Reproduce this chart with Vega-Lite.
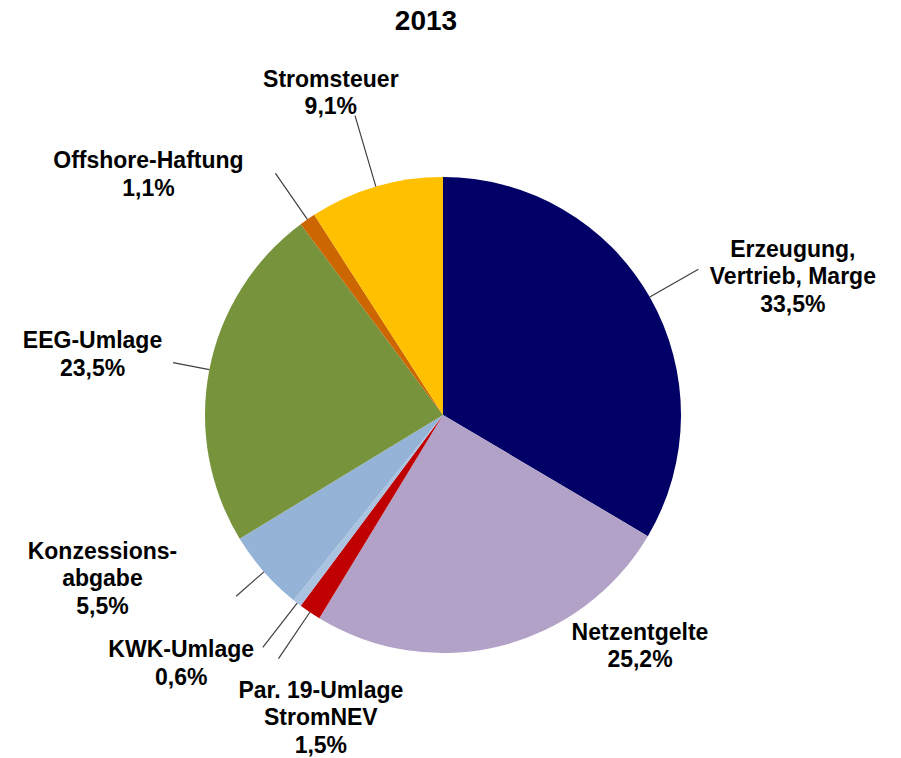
{
  "$schema": "https://vega.github.io/schema/vega-lite/v6.json",
  "autosize": {"type": "none"},
  "width": 886,
  "height": 748,
  "padding": {"left": 0, "top": 41, "right": 15, "bottom": 0},
  "background": "white",
  "title": {"text": "2013", "fontSize": 28, "font": "Liberation Sans", "fontWeight": "bold", "color": "#000000", "anchor": "middle", "dx": -17, "offset": 5},
  "config": {"view": {"stroke": null}},
  "data": {"values": [
    {"idx": 1, "name": "Erzeugung,\nVertrieb, Marge", "value": 33.5},
    {"idx": 2, "name": "Netzentgelte", "value": 25.2},
    {"idx": 3, "name": "Par. 19-Umlage\nStromNEV", "value": 1.5},
    {"idx": 4, "name": "KWK-Umlage", "value": 0.6},
    {"idx": 5, "name": "Konzessions-\nabgabe", "value": 5.5},
    {"idx": 6, "name": "EEG-Umlage", "value": 23.5},
    {"idx": 7, "name": "Offshore-Haftung", "value": 1.1},
    {"idx": 8, "name": "Stromsteuer", "value": 9.1}
  ]},
  "transform": [
    {"window": [{"op": "sum", "field": "value", "as": "cum"}], "sort": [{"field": "idx"}], "frame": [null, 0]},
    {"calculate": "datum.cum - datum.value / 2", "as": "mid"},
    {"calculate": "datum.name + '\\n' + replace(format(datum.value, '.1f'), '.', ',') + '%'", "as": "lab"}
  ],
  "layer": [
    {
      "mark": {"type": "arc", "outerRadius": 238},
      "encoding": {
        "theta": {"field": "value", "type": "quantitative", "stack": true, "scale": {"domain": [0, 100]}},
        "color": {"field": "idx", "type": "nominal", "legend": null,
          "scale": {"domain": [1, 2, 3, 4, 5, 6, 7, 8], "range": ["#000066", "#B3A2C7", "#C00000", "#A9C3E1", "#95B3D7", "#77933C", "#CC6600", "#FFC000"]}},
        "order": {"field": "idx", "type": "quantitative"}
      }
    },
    {
      "transform": [{"filter": {"field": "idx", "oneOf": [1, 3, 4, 7]}}],
      "mark": {"type": "arc", "innerRadius": 238, "outerRadius": 294, "stroke": "#404040", "strokeWidth": 1.2, "fillOpacity": 0},
      "encoding": {
        "theta": {"field": "mid", "type": "quantitative", "stack": null, "scale": {"domain": [0, 100]}},
        "theta2": {"field": "mid"}
      }
    },
    {
      "transform": [{"filter": {"field": "idx", "oneOf": [8]}}],
      "mark": {"type": "arc", "innerRadius": 238, "outerRadius": 312, "stroke": "#404040", "strokeWidth": 1.2, "fillOpacity": 0},
      "encoding": {
        "theta": {"field": "mid", "type": "quantitative", "stack": null, "scale": {"domain": [0, 100]}},
        "theta2": {"field": "mid"}
      }
    },
    {
      "transform": [{"filter": {"field": "idx", "oneOf": [5, 6]}}],
      "mark": {"type": "arc", "innerRadius": 238, "outerRadius": 275, "stroke": "#404040", "strokeWidth": 1.2, "fillOpacity": 0},
      "encoding": {
        "theta": {"field": "mid", "type": "quantitative", "stack": null, "scale": {"domain": [0, 100]}},
        "theta2": {"field": "mid"}
      }
    },
    {
      "transform": [{"filter": "datum.idx == 1"}],
      "mark": {"type": "text", "radius": 374, "dx": 25, "dy": 20, "fontSize": 23, "fontWeight": "bold", "font": "Liberation Sans", "lineBreak": "\n", "lineHeight": 27.5, "align": "center", "baseline": "middle", "color": "#000000"},
      "encoding": {"theta": {"field": "mid", "type": "quantitative", "stack": null, "scale": {"domain": [0, 100]}}, "text": {"field": "lab"}}
    },
    {
      "transform": [{"filter": "datum.idx == 2"}],
      "mark": {"type": "text", "radius": 272, "dx": 131, "dy": -46, "fontSize": 23, "fontWeight": "bold", "font": "Liberation Sans", "lineBreak": "\n", "lineHeight": 27.5, "align": "center", "baseline": "middle", "color": "#000000"},
      "encoding": {"theta": {"field": "mid", "type": "quantitative", "stack": null, "scale": {"domain": [0, 100]}}, "text": {"field": "lab"}}
    },
    {
      "transform": [{"filter": "datum.idx == 3"}],
      "mark": {"type": "text", "radius": 322, "dx": 58, "dy": 9, "fontSize": 23, "fontWeight": "bold", "font": "Liberation Sans", "lineBreak": "\n", "lineHeight": 27.5, "align": "center", "baseline": "middle", "color": "#000000"},
      "encoding": {"theta": {"field": "mid", "type": "quantitative", "stack": null, "scale": {"domain": [0, 100]}}, "text": {"field": "lab"}}
    },
    {
      "transform": [{"filter": "datum.idx == 4"}],
      "mark": {"type": "text", "radius": 357, "dx": -43, "dy": -47, "fontSize": 23, "fontWeight": "bold", "font": "Liberation Sans", "lineBreak": "\n", "lineHeight": 27.5, "align": "center", "baseline": "middle", "color": "#000000"},
      "encoding": {"theta": {"field": "mid", "type": "quantitative", "stack": null, "scale": {"domain": [0, 100]}}, "text": {"field": "lab"}}
    },
    {
      "transform": [{"filter": "datum.idx == 5"}],
      "mark": {"type": "text", "radius": 365, "dx": -66, "dy": -104, "fontSize": 23, "fontWeight": "bold", "font": "Liberation Sans", "lineBreak": "\n", "lineHeight": 27.5, "align": "center", "baseline": "middle", "color": "#000000"},
      "encoding": {"theta": {"field": "mid", "type": "quantitative", "stack": null, "scale": {"domain": [0, 100]}}, "text": {"field": "lab"}}
    },
    {
      "transform": [{"filter": "datum.idx == 6"}],
      "mark": {"type": "text", "radius": 356, "dx": -1, "dy": -6, "fontSize": 23, "fontWeight": "bold", "font": "Liberation Sans", "lineBreak": "\n", "lineHeight": 27.5, "align": "center", "baseline": "middle", "color": "#000000"},
      "encoding": {"theta": {"field": "mid", "type": "quantitative", "stack": null, "scale": {"domain": [0, 100]}}, "text": {"field": "lab"}}
    },
    {
      "transform": [{"filter": "datum.idx == 7"}],
      "mark": {"type": "text", "radius": 366, "dx": -86, "dy": 47, "fontSize": 23, "fontWeight": "bold", "font": "Liberation Sans", "lineBreak": "\n", "lineHeight": 27.5, "align": "center", "baseline": "middle", "color": "#000000"},
      "encoding": {"theta": {"field": "mid", "type": "quantitative", "stack": null, "scale": {"domain": [0, 100]}}, "text": {"field": "lab"}}
    },
    {
      "transform": [{"filter": "datum.idx == 8"}],
      "mark": {"type": "text", "radius": 341, "dx": -16, "dy": -8, "fontSize": 23, "fontWeight": "bold", "font": "Liberation Sans", "lineBreak": "\n", "lineHeight": 27.5, "align": "center", "baseline": "middle", "color": "#000000"},
      "encoding": {"theta": {"field": "mid", "type": "quantitative", "stack": null, "scale": {"domain": [0, 100]}}, "text": {"field": "lab"}}
    }
  ]
}
